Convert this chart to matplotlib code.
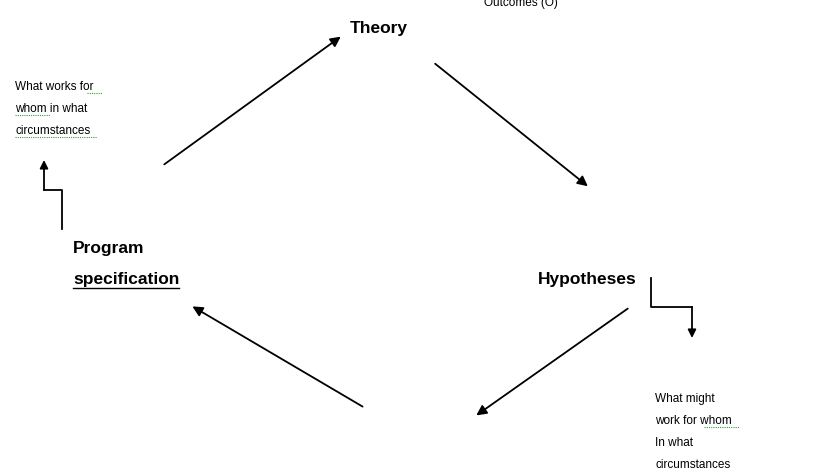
import matplotlib
matplotlib.use("Agg")
import matplotlib.pyplot as plt

# node labels (text, x, y, bold)
labels = [
    ("Outcomes (O)", 484, 3, False),
    ("Theory", 350, 28, True),
    ("Hypotheses", 538, 279, True),
    ("Program", 73, 248, True),
    ("specification", 73, 279, True),
]
left_note = ["What works for", "whom in what", "circumstances"]
right_note = ["What might", "work for whom", "In what", "circumstances"]

# cycle arrows (start -> end)
arrows = [
    ((162, 166), (343, 35)),
    ((433, 62), (590, 188)),
    ((630, 307), (474, 417)),
    ((365, 408), (190, 305)),
]
# elbow connectors: polyline then arrow head on last segment
elbows = [
    [(62, 229), (62, 190), (44, 190), (44, 160)],
    [(651, 278), (651, 307), (692, 307), (692, 338)],
]

fig = plt.figure(figsize=(8.4, 4.73), dpi=100)
ax = fig.add_axes([0, 0, 1, 1])
ax.set_xlim(0, 840)
ax.set_ylim(473, 0)
ax.axis("off")

texts = {}
for s, x, y, b in labels:
    t = ax.text(x, y, s, fontsize=12.5 if b else 8.5, fontweight="bold" if b else "normal",
                family="Liberation Sans", va="center", ha="left")
    texts[s] = t

for i, s in enumerate(left_note):
    ax.text(15, 87 + 22 * i, s, fontsize=8.5, family="Liberation Sans", va="center")
for i, s in enumerate(right_note):
    ax.text(655, 399 + 22 * i, s, fontsize=8.5, family="Liberation Sans", va="center")

for (x0, y0), (x1, y1) in arrows:
    ax.annotate("", xy=(x1, y1), xytext=(x0, y0),
                arrowprops=dict(arrowstyle="-|>", color="black", lw=1.3, mutation_scale=15))

for pts in elbows:
    xs = [p[0] for p in pts[:-1]]
    ys = [p[1] for p in pts[:-1]]
    ax.plot(xs, ys, color="black", lw=1.3)
    ax.annotate("", xy=pts[-1], xytext=pts[-2],
                arrowprops=dict(arrowstyle="-|>", color="black", lw=1.3, mutation_scale=12,
                                shrinkA=0, shrinkB=0))

# underline "specification"
fig.canvas.draw()
bb = texts["specification"].get_window_extent().transformed(ax.transData.inverted())
ax.plot([bb.x0, bb.x1], [288, 288], color="black", lw=1)
# spell-check squiggles
for x0, x1, y in [(87, 102, 93), (15, 50, 115), (15, 97, 137), (704, 739, 427)]:
    ax.plot([x0, x1], [y, y], color="#3a9a3a", lw=0.8, ls=(0, (1, 1)))

fig.savefig("out.png", dpi=100)
